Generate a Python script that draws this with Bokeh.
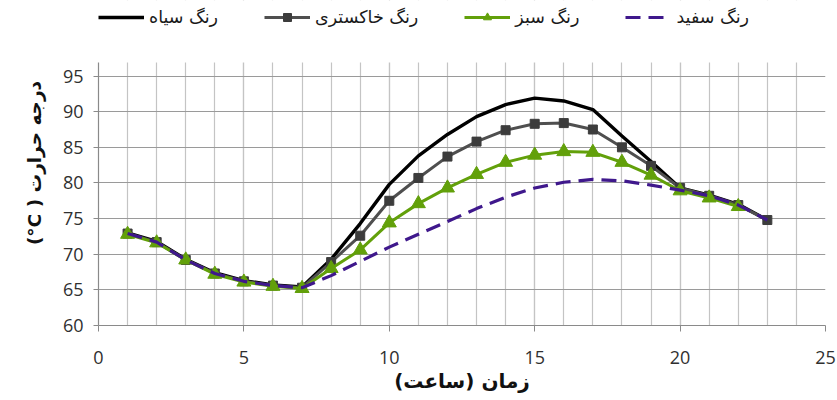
from bokeh.plotting import figure
from bokeh.models import (ColumnDataSource, Legend, LegendItem, Range1d,
                          SingleIntervalTicker, Title, BoxAnnotation)
from bokeh.embed import file_html
from bokeh.resources import INLINE

# ---- data ----
hours = list(range(1, 24))
hours_green = list(range(1, 23))

black_vals = [73.0, 71.8, 69.3, 67.4, 66.3, 65.7, 65.4, 69.3, 74.3, 79.8, 83.8,
              86.8, 89.3, 91.0, 91.9, 91.5, 90.3, 86.6, 83.0, 79.3, 78.3, 77.0, 74.8]
gray_vals = [72.9, 71.7, 69.2, 67.3, 66.2, 65.6, 65.3, 68.9, 72.6, 77.5, 80.7,
             83.7, 85.8, 87.4, 88.3, 88.4, 87.5, 85.0, 82.4, 79.3, 78.2, 76.9, 74.8]
green_vals = [72.8, 71.6, 69.2, 67.2, 66.1, 65.5, 65.2, 68.0, 70.6, 74.4, 77.1,
              79.3, 81.2, 82.9, 83.9, 84.4, 84.3, 82.9, 81.1, 78.9, 77.9, 76.7]
white_vals = [72.9, 71.7, 69.2, 67.3, 66.2, 65.6, 65.3, 67.0, 69.0, 71.0, 72.8,
              74.6, 76.4, 78.0, 79.3, 80.1, 80.5, 80.3, 79.7, 79.0, 78.2, 76.9, 74.8]

labels = ["رنگ سیاه", "رنگ خاکستری", "رنگ سبز", "رنگ سفید"]
x_title = "\u200fزمان (ساعت)\u200f"
y_title = "(°C ) درجه حرارت"

FA_FONT = "DejaVu Sans"
NUM_FONT = "Open Sans"

Y_MIN, Y_AX_MAX, Y_TOP = 60, 96.9, 105.6

p = figure(frame_width=727, frame_height=325,
           x_range=Range1d(0, 25), y_range=Range1d(Y_MIN, Y_TOP),
           output_backend="svg", toolbar_location=None,
           min_border_left=98, min_border_right=11,
           min_border_top=0, min_border_bottom=75)
p.outline_line_color = None
p.background_fill_color = "white"

# axes
xt = SingleIntervalTicker(interval=5, num_minor_ticks=5)
yt = SingleIntervalTicker(interval=5, num_minor_ticks=0)
p.xaxis.ticker = xt
p.yaxis.ticker = yt
p.xgrid.ticker = xt
p.ygrid.ticker = yt
p.yaxis.bounds = (Y_MIN, Y_AX_MAX)
p.ygrid.bounds = (Y_MIN, Y_AX_MAX)

for ax in (p.xaxis[0], p.yaxis[0]):
    ax.axis_line_color = "#8a8a8a"
    ax.axis_line_width = 1.2
    ax.major_tick_line_color = "#8a8a8a"
    ax.major_tick_in = 0
    ax.minor_tick_line_color = None
    ax.major_label_text_font = NUM_FONT
    ax.major_label_text_font_size = "18px"
    ax.major_label_text_color = "#303030"
    ax.axis_label_text_font = FA_FONT
    ax.axis_label_text_font_size = "20px"
    ax.axis_label_text_font_style = "bold"
    ax.axis_label_text_color = "#111111"

p.xaxis.major_tick_out = 6
p.xaxis.major_label_standoff = 19
p.xaxis.axis_label = x_title
p.xaxis.axis_label_standoff = 2
p.yaxis.major_tick_out = 5
p.yaxis.major_label_standoff = 10

# y title as a side title so it can be centred on the 60-97 band
ytitle = Title(text=y_title, align="center", offset=-30, standoff=29,
               text_font=FA_FONT, text_font_size="18.5px",
               text_font_style="bold", text_color="#111111")
p.add_layout(ytitle, "left")

p.xgrid.grid_line_color = "#c4c4c4"
p.xgrid.minor_grid_line_color = "#c4c4c4"
p.ygrid.grid_line_color = "#9a9a9a"
p.xgrid.grid_line_width = 1.2
p.xgrid.minor_grid_line_width = 1.2
p.ygrid.grid_line_width = 1.2

# white band above the plotting area (holds the legend)
p.add_layout(BoxAnnotation(bottom=Y_AX_MAX, fill_color="white", fill_alpha=1,
                           line_color=None, level="underlay"))

src_black = ColumnDataSource(dict(x=hours, y=black_vals))
src_gray = ColumnDataSource(dict(x=hours, y=gray_vals))
src_green = ColumnDataSource(dict(x=hours_green, y=green_vals))
src_white = ColumnDataSource(dict(x=hours, y=white_vals))

r_black = p.line("x", "y", source=src_black, line_color="black", line_width=3.4)
r_gray = p.line("x", "y", source=src_gray, line_color="#4f4f4f", line_width=3)
r_gray_m = p.scatter("x", "y", source=src_gray, marker="square", size=9,
                     fill_color="#3c3c3c", line_color="#3c3c3c")
r_green = p.line("x", "y", source=src_green, line_color="#62a00a", line_width=3)
r_green_m = p.scatter("x", "y", source=src_green, marker="triangle", size=14,
                      fill_color="#62a00a", line_color="#62a00a")
r_white = p.line("x", "y", source=src_white, line_color="#3f188c", line_width=3.2,
                 line_dash="15 8")

legend = Legend(items=[
    LegendItem(label=labels[0], renderers=[r_black]),
    LegendItem(label=labels[1], renderers=[r_gray, r_gray_m]),
    LegendItem(label=labels[2], renderers=[r_green, r_green_m]),
    LegendItem(label=labels[3], renderers=[r_white]),
], orientation="horizontal", location=(0, 298))
legend.padding = 0
legend.margin = 0
legend.border_line_color = None
legend.background_fill_alpha = 0
legend.glyph_width = 46
legend.glyph_height = 20
legend.label_standoff = 5
legend.spacing = 46
legend.label_text_font = FA_FONT
legend.label_text_font_size = "17.5px"
legend.label_text_color = "#1a1a1a"
p.add_layout(legend, "center")

open("out.html", "w").write(file_html(p, INLINE))
